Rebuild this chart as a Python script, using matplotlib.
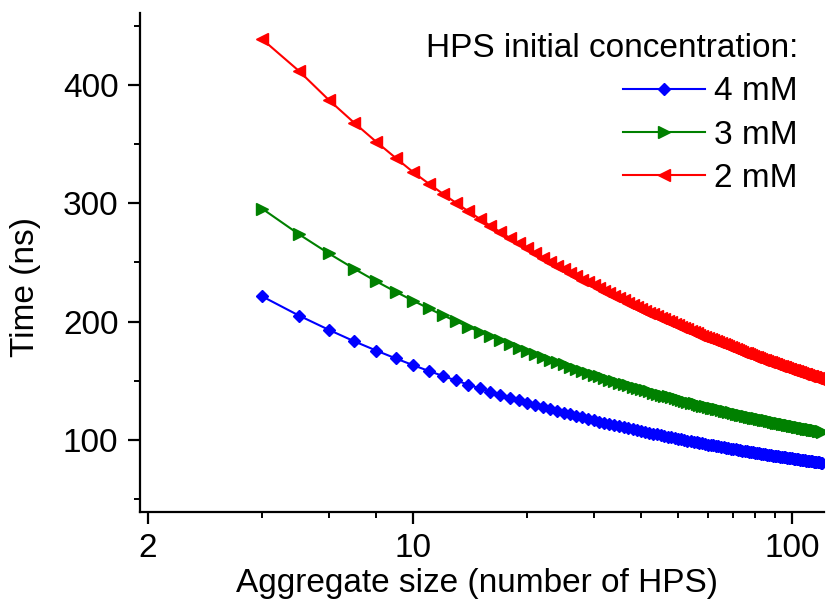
import matplotlib
matplotlib.use('Agg')
import matplotlib.pyplot as plt
from matplotlib.ticker import FixedLocator, FixedFormatter, NullFormatter

plt.rcParams['font.family'] = ['Liberation Sans', 'DejaVu Sans']

# aggregate size (number of HPS)
size = list(range(4, 121))

# time (ns)
t_2mM = [438.7, 411.9, 387.3, 368.0, 352.0, 338.4, 326.5, 316.7, 308.0, 300.3,
         293.3, 286.9, 281.0, 275.7, 270.8, 266.2, 262.0, 257.9, 254.2, 250.7,
         247.3, 244.2, 241.2, 238.3, 235.6, 233.1, 230.6, 228.2, 226.0, 223.9,
         221.8, 219.8, 217.9, 216.0, 214.2, 212.5, 210.9, 209.2, 207.7, 206.2,
         204.7, 203.3, 202.0, 200.6, 199.4, 198.1, 196.9, 195.6, 194.5, 193.4,
         192.2, 191.1, 190.1, 189.1, 188.0, 187.1, 186.2, 185.2, 184.3, 183.4,
         182.5, 181.6, 180.8, 180.0, 179.2, 178.3, 177.6, 176.8, 176.1, 175.3,
         174.6, 173.9, 173.2, 172.5, 171.8, 171.2, 170.5, 169.9, 169.3, 168.7,
         168.0, 167.4, 166.8, 166.3, 165.7, 165.2, 164.6, 164.0, 163.5, 162.9,
         162.5, 161.9, 161.4, 160.9, 160.4, 160.0, 159.4, 159.0, 158.5, 158.0,
         157.5, 157.1, 156.7, 156.2, 155.8, 155.4, 154.9, 154.5, 154.1, 153.7,
         153.3, 152.9, 152.5, 152.2, 151.8, 151.4, 151.0]

t_3mM = [295.5, 273.9, 257.6, 244.7, 234.1, 225.3, 217.8, 211.2, 205.4, 200.3,
         195.7, 191.5, 187.7, 184.2, 181.0, 178.0, 175.3, 172.7, 170.3, 168.0,
         165.9, 163.9, 162.0, 160.2, 158.5, 156.9, 155.3, 153.9, 152.5, 151.1,
         149.8, 148.6, 147.4, 146.2, 145.1, 144.1, 143.0, 142.0, 141.1, 140.1,
         139.3, 138.4, 137.5, 136.8, 136.0, 135.2, 134.4, 133.7, 133.0, 132.3,
         131.6, 131.0, 130.4, 129.7, 129.1, 128.5, 127.9, 127.4, 126.8, 126.3,
         125.8, 125.2, 124.8, 124.3, 123.8, 123.3, 122.8, 122.4, 121.9, 121.5,
         121.1, 120.7, 120.2, 119.8, 119.4, 119.0, 118.6, 118.3, 117.9, 117.5,
         117.2, 116.8, 116.5, 116.1, 115.8, 115.4, 115.1, 114.8, 114.5, 114.2,
         113.9, 113.6, 113.2, 113.0, 112.7, 112.4, 112.1, 111.8, 111.6, 111.3,
         111.0, 110.7, 110.5, 110.2, 110.0, 109.7, 109.5, 109.2, 109.0, 108.7,
         108.5, 108.3, 108.1, 107.9, 107.6, 107.4, 107.2]

t_4mM = [221.4, 205.2, 193.1, 183.4, 175.6, 169.0, 163.3, 158.4, 154.1, 150.3,
         146.8, 143.7, 140.9, 138.3, 135.9, 133.7, 131.6, 129.7, 127.9, 126.2,
         124.6, 123.1, 121.7, 120.3, 119.1, 117.9, 116.7, 115.6, 114.6, 113.5,
         112.6, 111.7, 110.8, 109.9, 109.1, 108.3, 107.5, 106.8, 106.1, 105.4,
         104.7, 104.0, 103.4, 102.8, 102.2, 101.6, 101.1, 100.6, 100.0, 99.5,
         99.0, 98.5, 98.0, 97.6, 97.1, 96.7, 96.2, 95.8, 95.4, 95.0,
         94.6, 94.2, 93.9, 93.5, 93.1, 92.8, 92.4, 92.1, 91.8, 91.4,
         91.1, 90.8, 90.5, 90.2, 89.9, 89.6, 89.3, 89.0, 88.7, 88.5,
         88.2, 87.9, 87.7, 87.4, 87.1, 86.9, 86.7, 86.4, 86.2, 86.0,
         85.7, 85.5, 85.3, 85.1, 84.8, 84.6, 84.4, 84.2, 84.0, 83.8,
         83.6, 83.4, 83.2, 83.0, 82.8, 82.6, 82.5, 82.3, 82.1, 81.9,
         81.7, 81.6, 81.4, 81.2, 81.1, 80.9, 80.8]

labels = ['4 mM', '3 mM', '2 mM']
x_major = [2, 10, 100]
x_minor = [4, 6, 8, 20, 30, 40, 50, 60, 70, 80, 90]
y_major = [100, 200, 300, 400]
y_minor = [50, 150, 250, 350, 450]

fig = plt.figure(figsize=(8.26, 6.01), dpi=100)
ax = fig.add_axes([0.1695, 0.1481, 0.8281, 0.8303])

ax.plot(size, t_4mM, color='#0000ff', lw=1.5, marker='D', ms=6.5, label=labels[0])
ax.plot(size, t_3mM, color='#008000', lw=1.5, marker='>', ms=8, label=labels[1])
ax.plot(size, t_2mM, color='#ff0000', lw=1.5, marker='<', ms=8, label=labels[2])

ax.set_xscale('log')
ax.set_xlim(1.905, 121.5)
ax.set_ylim(39.2, 460.8)

ax.xaxis.set_major_locator(FixedLocator(x_major))
ax.xaxis.set_major_formatter(FixedFormatter([str(v) for v in x_major]))
ax.xaxis.set_minor_locator(FixedLocator(x_minor))
ax.xaxis.set_minor_formatter(NullFormatter())
ax.yaxis.set_major_locator(FixedLocator(y_major))
ax.yaxis.set_minor_locator(FixedLocator(y_minor))

for s in ['top', 'right']:
    ax.spines[s].set_visible(False)
for s in ['left', 'bottom']:
    ax.spines[s].set_linewidth(1.6)

ax.tick_params(which='major', direction='out', length=8.5, width=1.6, labelsize=24)
ax.tick_params(which='minor', direction='out', length=4.5, width=1.4)
ax.tick_params(axis='x', which='major', pad=6.5)
ax.tick_params(axis='y', which='major', pad=7)

ax.set_xlabel('Aggregate size (number of HPS)', fontsize=24)
ax.set_ylabel('Time (ns)', fontsize=24)
ax.xaxis.set_label_coords(0.4927, -0.112)
ax.yaxis.set_label_coords(-0.1447, 0.451)

leg = ax.legend(title='HPS initial concentration:', loc='upper right', frameon=False,
                fontsize=24, title_fontsize=24, alignment='right', numpoints=1,
                handlelength=2.46, handletextpad=0.27, labelspacing=0.37,
                borderaxespad=0.2, bbox_to_anchor=(0.991, 1.0))

fig.savefig('out.png', dpi=100)
